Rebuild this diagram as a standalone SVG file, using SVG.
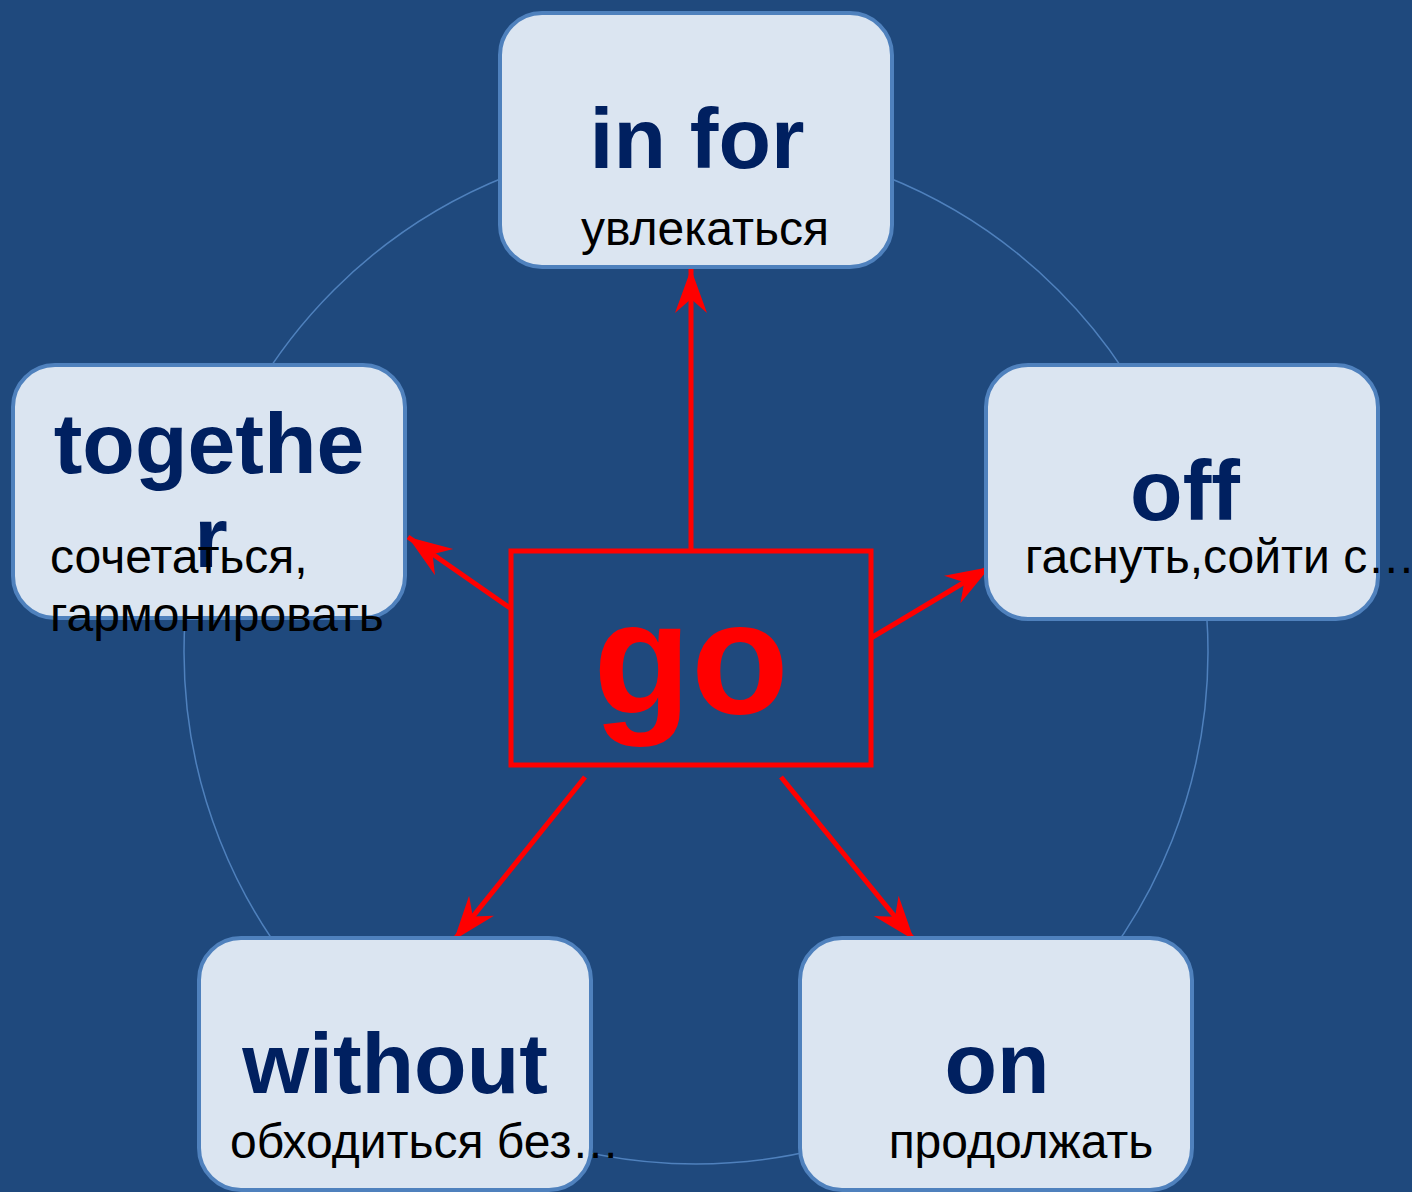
<svg xmlns="http://www.w3.org/2000/svg" width="1412" height="1192" viewBox="0 0 1412 1192">
<style>
.node{fill:#DBE5F1;stroke:#4F81BD;stroke-width:4}
.title{font-family:"Liberation Sans",Arial,sans-serif;font-weight:bold;font-size:86px;fill:#002060;text-anchor:middle}
.sub{font-family:"Liberation Sans",Arial,sans-serif;font-size:48px;fill:#000}
.conn{stroke:#FF0000;stroke-width:5;fill:none}
</style>
<defs>
<marker id="ah" markerUnits="userSpaceOnUse" viewBox="-46 -18 48 36" refX="0" refY="0" markerWidth="48" markerHeight="36" orient="auto">
<path d="M0,0 L-44,-16 L-30,0 L-44,16 Z" fill="#FF0000"/>
</marker>
</defs>
<rect width="1412" height="1192" fill="#1F497D"/>
<circle cx="696" cy="652" r="512" fill="none" stroke="#4F81BD" stroke-width="1.5"/>
<g id="connectors">
<line class="conn" x1="691" y1="549" x2="691" y2="269" marker-end="url(#ah)"/>
<line class="conn" x1="510" y1="608" x2="408" y2="537" marker-end="url(#ah)"/>
<line class="conn" x1="871" y1="638" x2="990" y2="567" marker-end="url(#ah)"/>
<line class="conn" x1="585" y1="777" x2="454" y2="940" marker-end="url(#ah)"/>
<line class="conn" x1="781" y1="777" x2="914" y2="940" marker-end="url(#ah)"/>
</g>
<g id="node-infor">
<rect class="node" x="500" y="13" width="392" height="254" rx="42"/>
<text class="title" x="697" y="168">in for</text>
<text class="sub" x="705" y="245" text-anchor="middle">увлекаться</text>
</g>
<g id="node-together">
<rect class="node" x="13" y="365" width="392" height="253" rx="42"/>
<text class="title" x="209" y="473">togethe</text>
<text class="title" x="211" y="567">r</text>
<text class="sub" x="50" y="573">сочетаться,</text>
<text class="sub" x="50" y="631">гармонировать</text>
</g>
<g id="node-off">
<rect class="node" x="986" y="365" width="392" height="254" rx="42"/>
<text class="title" x="1185" y="520">off</text>
<text class="sub" x="1025" y="573">гаснуть,сойти с…</text>
</g>
<g id="node-without">
<rect class="node" x="199" y="938" width="392" height="252" rx="42"/>
<text class="title" x="395" y="1093">without</text>
<text class="sub" x="230" y="1158">обходиться без…</text>
</g>
<g id="node-on">
<rect class="node" x="800" y="938" width="392" height="252" rx="42"/>
<text class="title" x="997" y="1093">on</text>
<text class="sub" x="1021" y="1158" text-anchor="middle">продолжать</text>
</g>
<g id="node-go">
<rect x="511" y="551" width="360" height="214" fill="none" stroke="#FF0000" stroke-width="5"/>
<text x="691" y="713" font-family="'Liberation Sans',Arial,sans-serif" font-weight="bold" font-size="160" fill="#FF0000" text-anchor="middle">go</text>
</g>
</svg>
